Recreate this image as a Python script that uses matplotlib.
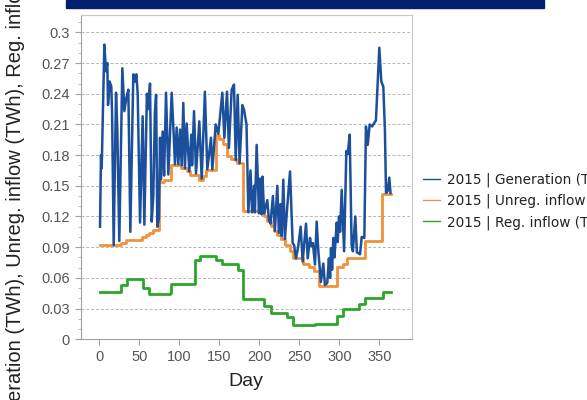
import matplotlib
matplotlib.use("Agg")
import matplotlib.pyplot as plt
from matplotlib.patches import Rectangle
from matplotlib.ticker import MultipleLocator

# 2015 | Generation (TWh) - vertices (day, value)
gen_day = [0.9, 2.1, 3.0, 6.3, 8.4, 10.0, 10.9, 12.9, 15.0, 16.0, 18.0, 20.9, 22.5, 25.0,
           28.8, 31.3, 33.8, 36.3, 38.8, 42.5, 44.6, 46.3, 48.0, 50.9, 54.2, 56.3,
           59.5, 61.0, 63.4, 65.5, 67.5, 69.5, 71.0, 72.5, 74.5, 75.9, 77.0, 79.2,
           81.0, 83.4, 86.3, 90.5, 93.0, 94.6, 96.7, 98.8, 101.0, 103.0, 105.0, 107.0,
           109.2, 112.5, 115.0, 116.0, 118.4, 120.9, 125.0, 128.0, 132.0, 135.0,
           139.6, 141.3, 145.5, 148.8, 153.8, 156.3, 159.6, 162.0, 165.5, 168.4,
           170.5, 173.0, 175.4, 178.8, 181.0, 184.0, 186.3, 189.0, 191.0, 193.5,
           194.5, 196.7, 199.6, 201.0, 203.0, 204.0, 206.0, 210.0, 212.0, 214.0,
           217.0, 219.5, 222.5, 224.5, 226.5, 228.0, 230.0, 232.0, 235.0, 238.4,
           241.7, 243.5, 245.9, 248.5, 251.7, 254.2, 258.4, 260.5, 263.4, 265.0,
           267.0, 269.6, 271.7, 273.8, 277.0, 280.0, 282.0, 285.0, 287.0, 288.5,
           289.6, 291.0, 292.5, 294.0, 296.7, 298.0, 299.6, 301.0, 303.0, 306.0,
           308.8, 310.5, 313.0, 315.4, 317.0, 320.0, 322.0, 325.9, 328.0, 331.3,
           333.3, 335.5, 338.0, 341.0, 345.8, 350.0, 352.5, 355.0, 357.0, 358.4,
           360.5, 362.5, 364.0]
gen_val = [0.110, 0.180, 0.167, 0.288, 0.262, 0.270, 0.229, 0.252, 0.247, 0.220, 0.092, 0.241, 0.205, 0.096,
           0.265, 0.223, 0.236, 0.244, 0.105, 0.259, 0.252, 0.259, 0.240, 0.114, 0.218, 0.112,
           0.240, 0.225, 0.250, 0.115, 0.140, 0.222, 0.239, 0.110, 0.118, 0.197, 0.156, 0.203,
           0.160, 0.241, 0.161, 0.241, 0.200, 0.171, 0.207, 0.171, 0.205, 0.170, 0.231, 0.167,
           0.211, 0.164, 0.200, 0.170, 0.223, 0.162, 0.213, 0.157, 0.242, 0.166,
           0.197, 0.166, 0.210, 0.201, 0.241, 0.197, 0.242, 0.187, 0.244, 0.249,
           0.175, 0.239, 0.172, 0.229, 0.224, 0.210, 0.124, 0.165, 0.124, 0.150,
           0.124, 0.190, 0.123, 0.157, 0.122, 0.159, 0.123, 0.136, 0.117, 0.113,
           0.140, 0.106, 0.150, 0.104, 0.132, 0.101, 0.156, 0.098, 0.130, 0.164,
           0.094, 0.092, 0.079, 0.090, 0.110, 0.076, 0.113, 0.079, 0.099, 0.091,
           0.094, 0.073, 0.115, 0.086, 0.056, 0.074, 0.053, 0.055, 0.079, 0.060,
           0.089, 0.068, 0.099, 0.080, 0.114, 0.095, 0.120, 0.105, 0.146, 0.086,
           0.184, 0.181, 0.200, 0.092, 0.086, 0.120, 0.085, 0.083, 0.100, 0.099,
           0.208, 0.190, 0.210, 0.208, 0.214, 0.285, 0.252, 0.247, 0.205, 0.143,
           0.145, 0.158, 0.143]

# 2015 | Unreg. inflow (TWh) - step levels (start day, value)
unreg_day = [1, 27, 33, 53, 58, 62, 67, 75, 81, 90, 102, 110, 113, 125, 130, 133, 146,
             150, 155, 160, 165, 172, 180, 206, 210, 214, 218, 222, 227, 232, 238, 242,
             254, 262, 268, 274, 297, 304, 310, 332, 353, 365]
unreg_val = [0.092, 0.094, 0.097, 0.100, 0.102, 0.104, 0.107, 0.154, 0.156, 0.170, 0.167,
             0.164, 0.161, 0.156, 0.160, 0.165, 0.200, 0.196, 0.191, 0.179, 0.176, 0.172,
             0.125, 0.120, 0.116, 0.111, 0.106, 0.102, 0.098, 0.092, 0.086, 0.079, 0.074,
             0.071, 0.067, 0.052, 0.071, 0.074, 0.079, 0.096, 0.142, 0.142]

# 2015 | Reg. inflow (TWh) - step levels (start day, value)
reg_day = [1, 27, 34, 54, 62, 88, 90, 119, 126, 146, 153, 173, 180, 206, 214, 234, 242,
           270, 297, 304, 325, 332, 355, 365]
reg_val = [0.046, 0.053, 0.059, 0.050, 0.044, 0.045, 0.054, 0.077, 0.081, 0.077, 0.074,
           0.068, 0.039, 0.032, 0.026, 0.022, 0.0135, 0.0145, 0.023, 0.030, 0.034, 0.040,
           0.046, 0.046]

labels = ["2015 | Generation (TWh)", "2015 | Unreg. inflow (TWh)", "2015 | Reg. inflow (TWh)"]
colors = ["#1c4f9c", "#f0923a", "#2ba62b"]

fig = plt.figure(figsize=(5.87, 4.0), dpi=100)
ax = fig.add_axes([80.5 / 587, 0.152, (411.7 - 80.5) / 587, 0.9625 - 0.152])

# dark banner at the very top of the screenshot
fig.patches.append(Rectangle((66 / 587, 1 - 7.5 / 400), (544 - 66) / 587, 7.5 / 400,
                             transform=fig.transFigure, color="#001f6e", zorder=5))

ax.plot(reg_day, reg_val, color=colors[2], lw=2, drawstyle="steps-post", label=labels[2])
ax.plot(unreg_day, unreg_val, color=colors[1], lw=2, drawstyle="steps-post", label=labels[1])
ax.plot(gen_day, gen_val, color=colors[0], lw=1.8, label=labels[0])

ax.set_xlim(-23.5, 390.5)
ax.set_ylim(0, 0.317)
ax.xaxis.set_major_locator(MultipleLocator(50))
ax.yaxis.set_minor_locator(MultipleLocator(0.01))
ax.set_yticks([0, 0.03, 0.06, 0.09, 0.12, 0.15, 0.18, 0.21, 0.24, 0.27, 0.3])
ax.set_yticklabels(["0", "0.03", "0.06", "0.09", "0.12", "0.15", "0.18", "0.21", "0.24", "0.27", "0.3"])

ax.grid(axis="y", which="major", color="#b5b5b5", ls=(0, (3, 2)), lw=0.7)
ax.set_axisbelow(True)
for s in ax.spines.values():
    s.set_color("#c8c8c8")
ax.spines["left"].set_color("#a0a0a0")
ax.spines["bottom"].set_color("#a0a0a0")
ax.tick_params(which="major", direction="out", length=4, color="#a0a0a0",
               labelsize=10.5, labelcolor="#555555")
ax.tick_params(which="minor", direction="out", length=2, color="#b0b0b0")
for t in ax.get_xticklabels() + ax.get_yticklabels():
    t.set_family("Liberation Sans")

ax.set_xlabel("Day", fontsize=14, family="Liberation Sans", color="#222222", labelpad=7)
ax.set_ylabel("Generation (TWh), Unreg. inflow (TWh), Reg. inflow (TWh)", fontsize=14.5,
              family="Liberation Sans", color="#222222")
ax.yaxis.set_label_coords(-0.168, 0.5)

h, l = ax.get_legend_handles_labels()
order = [2, 1, 0]
leg = fig.legend([h[i] for i in order], [l[i] for i in order], loc="center left",
                 bbox_to_anchor=(422.7 / 587, 0.4975), frameon=False,
                 handlelength=1.3, handletextpad=0.5, labelspacing=0.5,
                 borderpad=0, borderaxespad=0, prop={"family": "DejaVu Sans", "size": 9.8})
for line in leg.get_lines():
    line.set_linewidth(1)
for t in leg.get_texts():
    t.set_color("#222222")

fig.savefig("out.png", dpi=100)
